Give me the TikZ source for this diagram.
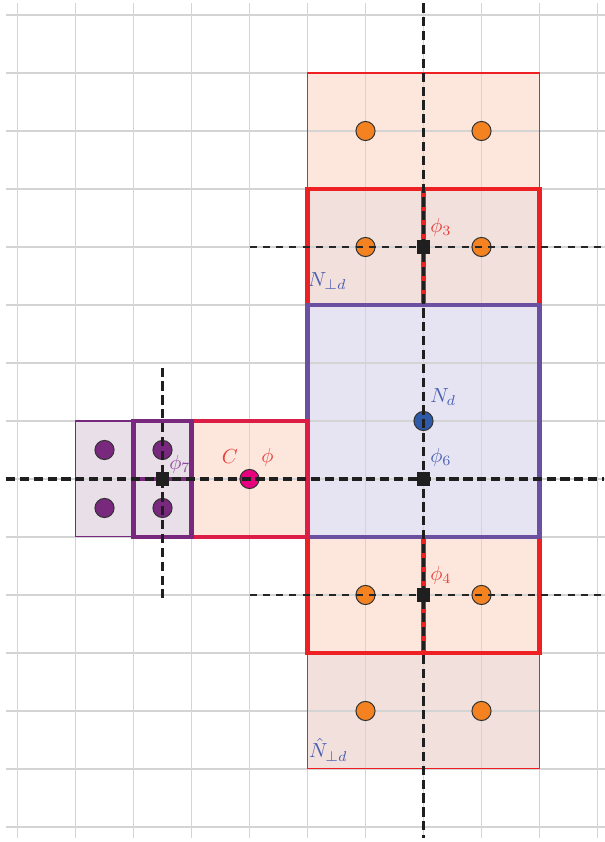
\documentclass[tikz,border=0pt]{standalone}
\definecolor{gridgray}{RGB}{212,212,212}
\definecolor{redA}{RGB}{237,32,36}
\definecolor{crim}{RGB}{220,30,70}
\definecolor{bluebd}{RGB}{107,79,160}
\definecolor{bluefill}{RGB}{230,228,242}
\definecolor{lorange}{RGB}{253,231,220}
\definecolor{lpink}{RGB}{242,224,221}
\definecolor{lpurp}{RGB}{233,223,233}
\definecolor{purp}{RGB}{120,40,125}
\definecolor{orng}{RGB}{245,130,32}
\definecolor{magen}{RGB}{230,0,126}
\definecolor{bluedot}{RGB}{46,90,168}
\definecolor{lblred}{RGB}{232,64,58}
\definecolor{lblblue}{RGB}{74,95,176}
\definecolor{lblpurp}{RGB}{140,74,156}
\tikzset{
  dot/.style={circle, draw=black!80, line width=0.5pt, minimum size=0.33cm, inner sep=0pt},
  sq/.style={rectangle, fill=black!88, minimum size=0.24cm, inner sep=0pt},
  thickdash/.style={dash pattern=on 4.5pt off 2.3pt, line width=1.6pt, black!88},
  thindash/.style={dash pattern=on 3.5pt off 3pt, line width=0.9pt, black!85},
  thickbd/.style={line width=2pt},
  thinbd/.style={line width=0.5pt},
  lbl/.style={inner sep=0pt}
}
\begin{document}
\begin{tikzpicture}
\useasboundingbox (-0.302,-0.259) rectangle (10.129,14.259);
% fills
\fill[lorange] (5,11) rectangle (9,13);
\fill[lpink] (5,9) rectangle (9,11);
\fill[lorange] (5,3) rectangle (9,5);
\fill[lpink] (5,1) rectangle (9,3);
\fill[bluefill] (5,5) rectangle (9,9);
\fill[lorange] (3,5) rectangle (5,7);
\fill[lpurp] (1,5) rectangle (3,7);
% grid
\draw[gridgray, line width=0.55pt] (-0.2,-0.19) grid (10.13,14.2);
% borders
\draw[redA, thinbd] (5,9) rectangle (9,13);
\draw[redA, thinbd] (5,1) rectangle (9,5);
\draw[redA, thickbd] (5,9) rectangle (9,11);
\draw[redA, thickbd] (7,9) -- (7,11);
\draw[redA, thickbd] (5,3) rectangle (9,5);
\draw[redA, thickbd] (7,3) -- (7,5);
\draw[bluebd, thickbd] (5,5) rectangle (9,9);
\draw[crim, thickbd] (3,5) rectangle (5,7);
\draw[purp, thinbd] (1,5) rectangle (3,7);
\draw[purp, thickbd] (2,5) rectangle (3,7);
\draw[purp, thickbd] (2,6) -- (3,6);
% dots
\node[dot, fill=orng] (o1) at (6,12) {};
\node[dot, fill=orng] (o2) at (8,12) {};
\node[dot, fill=orng] (o3) at (6,10) {};
\node[dot, fill=orng] (o4) at (8,10) {};
\node[dot, fill=orng] (o5) at (6,4) {};
\node[dot, fill=orng] (o6) at (8,4) {};
\node[dot, fill=orng] (o7) at (6,2) {};
\node[dot, fill=orng] (o8) at (8,2) {};
\node[dot, fill=purp] (p1) at (1.5,6.5) {};
\node[dot, fill=purp] (p2) at (2.5,6.5) {};
\node[dot, fill=purp] (p3) at (1.5,5.5) {};
\node[dot, fill=purp] (p4) at (2.5,5.5) {};
\node[dot, fill=magen] (m) at (4,6) {};
\node[dot, fill=bluedot] (nd) at (7,7) {};
% dashed line end points
\coordinate (vT) at (7,14.2);
\coordinate (vB) at (7,-0.19);
\coordinate (hL) at (-0.2,6);
\coordinate (hR) at (10.12,6);
\coordinate (h3L) at (4,10);
\coordinate (h3R) at (10.12,10);
\coordinate (h4L) at (4,4);
\coordinate (h4R) at (10.12,4);
\coordinate (v7T) at (2.5,7.92);
\coordinate (v7B) at (2.5,3.95);
\draw[thickdash] (vT) -- (vB);
\draw[thickdash] (hL) -- (hR);
\draw[thindash] (h3L) -- (h3R);
\draw[thindash] (h4L) -- (h4R);
\draw[thickdash] (v7T) -- (v7B);
% squares
\node[sq] (s3) at (7,10) {};
\node[sq] (s6) at (7,6) {};
\node[sq] (s4) at (7,4) {};
\node[sq] (s7) at (2.5,6) {};
% labels
\node[lbl, text=lblred] (l3) at (7.30,10.34) {$\phi_3$};
\node[lbl, text=lblblue] (lnp) at (5.34,9.42) {$N_{\perp d}$};
\node[lbl, text=lblblue] (lnd) at (7.34,7.41) {$N_d$};
\node[lbl, text=lblblue] (l6) at (7.30,6.37) {$\phi_6$};
\node[lbl, text=lblred] (l4) at (7.30,4.33) {$\phi_4$};
\node[lbl, text=lblblue] (lnh) at (5.36,1.33) {$\hat{N}_{\perp d}$};
\node[lbl, text=lblred] (lc) at (3.66,6.38) {$C$};
\node[lbl, text=lblred] (lphi) at (4.31,6.37) {$\phi$};
\node[lbl, text=lblpurp] (l7) at (2.80,6.26) {$\phi_7$};
\end{tikzpicture}
\end{document}
